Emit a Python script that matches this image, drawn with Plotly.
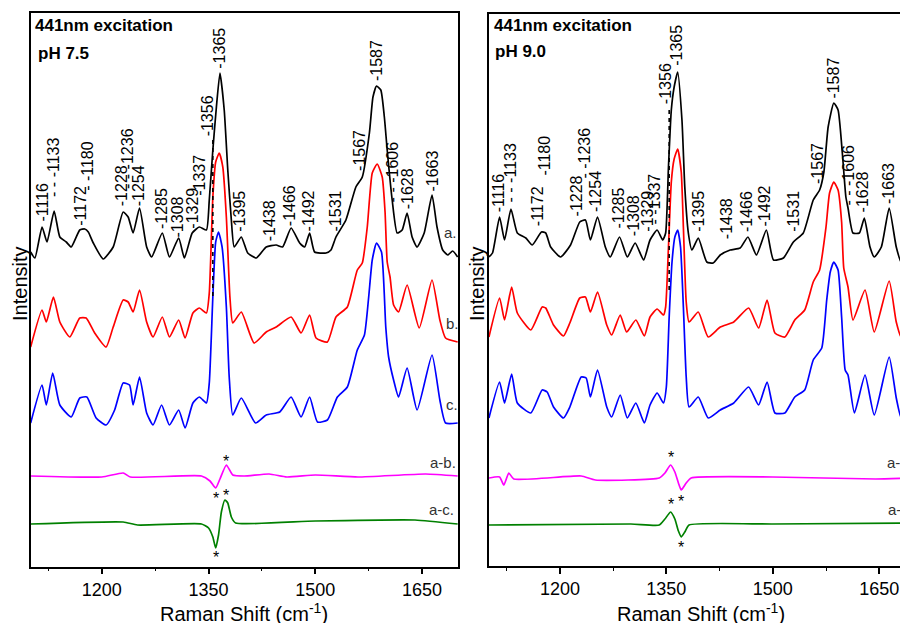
import plotly.graph_objects as go

FONT = "Arial, 'Liberation Sans', sans-serif"

# ---------------- pH 7.5 panel (left) ----------------
wn75_a = [1100, 1106, 1116, 1123, 1133, 1141, 1150, 1157, 1169, 1176, 1181, 1188, 1202, 1216, 1230, 1237, 1244, 1253,
          1263, 1270, 1285, 1295, 1308, 1316, 1327, 1337, 1347, 1351, 1356, 1361, 1366, 1372, 1377, 1382, 1386, 1396,
          1405, 1417, 1431, 1445, 1454, 1466, 1478, 1485, 1492, 1499, 1515, 1522, 1529, 1543, 1557, 1566, 1576, 1581,
          1586, 1592, 1597, 1601, 1608, 1615, 1622, 1629, 1636, 1643, 1653, 1664, 1671, 1679, 1686, 1693, 1700]
int75_a = [315, 309, 340, 325, 356, 330, 325, 320, 337, 338, 335, 324, 308, 320, 355, 350, 334, 359,
           320, 310, 334, 310, 329, 309, 334, 340, 337, 367, 417, 460, 494, 457, 397, 347, 320, 330,
           314, 309, 320, 322, 320, 339, 324, 320, 334, 315, 314, 317, 330, 347, 380, 390, 434, 470,
           481, 477, 450, 417, 367, 334, 337, 354, 330, 320, 334, 372, 340, 317, 312, 316, 310]

wn75_b = [1100, 1116, 1122, 1132, 1141, 1155, 1169, 1178, 1190, 1206, 1216, 1230, 1237, 1244, 1253, 1263, 1272, 1285,
          1295, 1308, 1317, 1328, 1337, 1347, 1351, 1356, 1360, 1365, 1370, 1375, 1380, 1384, 1396, 1414, 1431, 1445,
          1466, 1480, 1492, 1501, 1517, 1529, 1545, 1559, 1566, 1573, 1580, 1587, 1594, 1598, 1601, 1605, 1610, 1617,
          1629, 1646, 1664, 1675, 1683, 1700]
int75_b = [220, 257, 245, 270, 245, 230, 249, 249, 234, 220, 240, 267, 265, 255, 277, 245, 230, 250,
           230, 247, 229, 254, 259, 254, 274, 370, 405, 414, 400, 350, 270, 244, 255, 224, 235, 240,
           250, 234, 252, 229, 225, 250, 260, 297, 304, 340, 394, 403, 390, 355, 305, 290, 262, 255,
           282, 239, 287, 247, 229, 225]

wn75_c = [1100, 1116, 1122, 1131, 1141, 1157, 1169, 1179, 1192, 1206, 1218, 1230, 1239, 1244, 1253, 1263, 1272, 1284,
          1295, 1308, 1317, 1328, 1337, 1347, 1351, 1356, 1360, 1364, 1369, 1375, 1379, 1384, 1396, 1416, 1431, 1450,
          1466, 1480, 1492, 1503, 1517, 1531, 1545, 1559, 1569, 1575, 1580, 1586, 1593, 1599, 1603, 1610, 1617, 1629,
          1643, 1664, 1675, 1683, 1700]
int75_c = [144, 182, 162, 194, 162, 150, 169, 170, 149, 142, 157, 184, 182, 162, 190, 154, 142, 162,
           142, 157, 139, 164, 170, 164, 184, 270, 325, 335, 320, 260, 190, 152, 169, 144, 152, 155,
           170, 150, 170, 145, 147, 170, 180, 217, 232, 270, 307, 324, 315, 240, 210, 187, 170, 199,
           157, 212, 167, 144, 144]

wn75_ab = [1100, 1200, 1230, 1240, 1340, 1352, 1360, 1366, 1375, 1384, 1400, 1435, 1460, 1500, 1560, 1655, 1700]
int75_ab = [91, 90, 94, 90, 91, 86, 79, 88, 102, 92, 91, 93, 90, 92, 90, 93, 91]

wn75_ac = [1100, 1230, 1250, 1340, 1350, 1356, 1360, 1364, 1368, 1373, 1377, 1382, 1388, 1500, 1640, 1700]
int75_ac = [43, 45, 42, 43, 39, 30, 19, 32, 55, 67, 64, 50, 44, 46, 47, 43]

peaks75_text = ["-1116", "- - -1133", "-1172", "- -1180", "-1228", "- - -1236", "-1254", "-1285", "-1308", "-1329",
                "-1337", "-1356", "-1365", "-1395", "-1438", "-1466", "-1492", "-1531", "-1567", "-1587",
                "- - -1606", "-1628", "-1663"]
peaks75_x = [1116, 1132, 1169, 1179, 1228, 1236, 1252, 1284, 1307, 1327,
             1337, 1349, 1365, 1393, 1436, 1464, 1491, 1529, 1562, 1586,
             1609, 1630, 1664]
peaks75_y = [344, 369, 340, 375, 360, 377, 360, 337, 329, 337,
             370, 430, 497, 334, 325, 340, 335, 335, 395, 485,
             364, 357, 374]
lead75_x = [1356, 1356]
lead75_y = [427, 267]

stars75_x = [1375, 1360, 1374, 1360]
stars75_y = [106, 69, 72, 10]

curve_names = ["a.", "b.", "c.", "a-b.", "a-c."]
names75_x = [1678, 1681, 1681, 1659, 1657]
names75_y = [335, 244, 163, 105, 58]

# ---------------- pH 9.0 panel (right) ----------------
wn90_a = [1100, 1105, 1115, 1122, 1131, 1140, 1152, 1161, 1174, 1180, 1187, 1201, 1215, 1228, 1236, 1243, 1253, 1264,
          1271, 1284, 1295, 1306, 1318, 1327, 1337, 1345, 1349, 1353, 1357, 1361, 1366, 1372, 1376, 1381, 1386, 1395,
          1407, 1416, 1426, 1440, 1454, 1465, 1477, 1491, 1501, 1515, 1529, 1543, 1557, 1566, 1572, 1578, 1586, 1592,
          1598, 1603, 1606, 1613, 1622, 1629, 1637, 1643, 1653, 1664, 1674, 1681, 1688, 1699]
int90_a = [310, 314, 350, 327, 358, 334, 329, 322, 335, 334, 320, 310, 322, 345, 347, 327, 350, 320,
           310, 330, 310, 324, 307, 327, 337, 327, 334, 400, 457, 480, 495, 447, 380, 334, 317, 329,
           305, 304, 312, 317, 319, 330, 312, 337, 307, 309, 325, 334, 367, 377, 395, 440, 464, 457,
           414, 370, 359, 334, 334, 349, 320, 310, 320, 359, 320, 305, 309, 310]

wn90_b = [1100, 1115, 1122, 1132, 1140, 1159, 1175, 1180, 1191, 1205, 1214, 1228, 1236, 1243, 1253, 1266, 1273, 1285,
          1294, 1307, 1319, 1327, 1337, 1346, 1349, 1353, 1357, 1361, 1366, 1371, 1374, 1378, 1382, 1395, 1409, 1426,
          1445, 1466, 1480, 1492, 1503, 1517, 1531, 1545, 1557, 1566, 1575, 1580, 1586, 1592, 1597, 1600, 1606, 1613,
          1630, 1643, 1664, 1674, 1681, 1688, 1699]
int90_b = [230, 269, 247, 280, 254, 237, 260, 259, 242, 231, 244, 269, 270, 255, 275, 242, 232, 252,
           235, 247, 231, 250, 258, 252, 260, 320, 385, 408, 418, 395, 340, 265, 245, 255, 230, 240,
           245, 259, 239, 267, 234, 230, 247, 257, 285, 297, 340, 374, 385, 377, 345, 299, 280, 247,
           277, 235, 286, 245, 230, 232, 230]

wn90_c = [1100, 1115, 1122, 1132, 1140, 1159, 1175, 1182, 1191, 1205, 1214, 1230, 1237, 1243, 1253, 1266, 1273, 1285,
          1295, 1307, 1319, 1327, 1337, 1346, 1350, 1354, 1358, 1362, 1366, 1370, 1374, 1378, 1382, 1395, 1409, 1426,
          1445, 1466, 1480, 1492, 1503, 1517, 1531, 1545, 1557, 1569, 1576, 1581, 1586, 1592, 1597, 1602, 1606, 1615,
          1630, 1643, 1664, 1674, 1681, 1688, 1699]
int90_c = [149, 185, 164, 193, 164, 154, 177, 175, 160, 149, 160, 190, 189, 170, 197, 160, 150, 172,
           149, 164, 144, 162, 174, 164, 180, 250, 305, 330, 337, 320, 260, 190, 160, 170, 149, 157,
           164, 180, 162, 185, 154, 154, 170, 177, 207, 219, 267, 295, 305, 297, 250, 197, 192, 154,
           192, 152, 210, 169, 149, 157, 152]

wn90_ab = [1100, 1115, 1121, 1128, 1135, 1230, 1250, 1340, 1348, 1356, 1362, 1367, 1371, 1378, 1385, 1500, 1645, 1699]
int90_ab = [89, 90, 82, 94, 88, 91, 87, 89, 94, 102, 95, 84, 77, 84, 89, 90, 88, 89]

wn90_ac = [1100, 1300, 1340, 1348, 1356, 1362, 1367, 1371, 1376, 1382, 1500, 1699]
int90_ac = [42, 43, 42, 48, 55, 48, 36, 30, 35, 42, 43, 44]

peaks90_text = ["-1116", "- - -1133", "-1172", "-1180", "-1228", "- -1236", "-1254", "-1285", "-1308", "-1329",
                "- -1337", "-1356", "-1365", "-1395", "-1438", "-1466", "-1492", "-1531", "-1567", "-1587",
                "- - -1606", "-1628", "-1663"]
peaks90_x = [1114, 1131, 1168, 1177, 1224, 1234, 1250, 1282, 1304, 1323,
             1334, 1349, 1364, 1395, 1435, 1463, 1489, 1529, 1563, 1585,
             1606, 1627, 1663]
peaks90_y = [354, 364, 340, 390, 350, 387, 354, 337, 330, 334,
             342, 462, 500, 334, 327, 334, 340, 334, 382, 467,
             360, 354, 362]
lead90_x = [1354, 1354]
lead90_y = [457, 277]

stars90_x = [1356, 1356, 1371, 1371]
stars90_y = [110, 63, 66, 20]

names90_x = [1681, 1679, 1679, 1658, 1659]
names90_y = [327, 247, 177, 105, 58]

colors = ["#000000", "#FF0000", "#0000FF", "#FF00FF", "#008000"]

fig = go.Figure()


def add_panel(xa, ya, curves, lead_x, lead_y):
    for (wx, iy), col in zip(curves, colors):
        fig.add_trace(go.Scatter(x=wx, y=iy, mode="lines", xaxis=xa, yaxis=ya,
                                 line=dict(color=col, width=1.7, shape="spline", smoothing=0.5),
                                 hoverinfo="skip", showlegend=False))
    fig.add_trace(go.Scatter(x=lead_x, y=lead_y, mode="lines", xaxis=xa, yaxis=ya,
                             line=dict(color="#000000", width=1.6, dash="4px,4px"),
                             hoverinfo="skip", showlegend=False))


add_panel("x", "y", [(wn75_a, int75_a), (wn75_b, int75_b), (wn75_c, int75_c),
                     (wn75_ab, int75_ab), (wn75_ac, int75_ac)], lead75_x, lead75_y)
add_panel("x2", "y2", [(wn90_a, int90_a), (wn90_b, int90_b), (wn90_c, int90_c),
                       (wn90_ab, int90_ab), (wn90_ac, int90_ac)], lead90_x, lead90_y)

ann = []


def panel_annotations(xr, yr, ptext, px, py, sx, sy, nx, ny):
    for t, x, y in zip(ptext, px, py):
        ann.append(dict(x=x, y=y, xref=xr, yref=yr, text=t, textangle=-90, showarrow=False,
                        xanchor="center", yanchor="bottom", font=dict(size=16, color="#000", family=FONT),
                        borderpad=0))
    for x, y in zip(sx, sy):
        ann.append(dict(x=x, y=y, xref=xr, yref=yr, text="*", showarrow=False,
                        xanchor="center", yanchor="middle", font=dict(size=16, color="#000", family=FONT)))
    for t, x, y in zip(curve_names, nx, ny):
        ann.append(dict(x=x, y=y, xref=xr, yref=yr, text=t, showarrow=False,
                        xanchor="left", yanchor="middle", font=dict(size=15, color="#333", family=FONT)))


panel_annotations("x", "y", peaks75_text, peaks75_x, peaks75_y, stars75_x, stars75_y, names75_x, names75_y)
panel_annotations("x2", "y2", peaks90_text, peaks90_x, peaks90_y, stars90_x, stars90_y, names90_x, names90_y)

W, H = 908, 623
OFF = 8  # the page body adds an 8 px margin; positions below are page pixels


def paper(px, py):
    return (px - OFF) / W, (H - (py - OFF)) / H


headers = [("<b>441nm excitation</b>", 33, 25), ("<b>pH 7.5</b>", 36, 53),
           ("<b>441nm excitation</b>", 493, 25), ("<b>pH 9.0</b>", 494, 51)]
for t, px, py in headers:
    x, y = paper(px, py)
    ann.append(dict(x=x, y=y, xref="paper", yref="paper", text=t, showarrow=False,
                    xanchor="left", yanchor="middle", font=dict(size=17, color="#000", family=FONT)))

for px in (245, 703):
    x, y = paper(px, 612)
    ann.append(dict(x=x, y=y, xref="paper", yref="paper", text="Raman Shift (cm<sup>-1</sup>)",
                    showarrow=False, xanchor="center", yanchor="middle",
                    font=dict(size=20, color="#000", family=FONT)))
for px in (20, 478):
    x, y = paper(px, 284)
    ann.append(dict(x=x, y=y, xref="paper", yref="paper", text="Intensity", textangle=-90,
                    showarrow=False, xanchor="center", yanchor="middle",
                    font=dict(size=20, color="#000", family=FONT)))

xcommon = dict(showline=True, linecolor="#000", linewidth=1.5, mirror=True, ticks="outside",
               ticklen=6, tickwidth=1.5, tickcolor="#000", tick0=1200, dtick=150,
               minor=dict(ticks="outside", ticklen=3, tick0=1125, dtick=75, tickcolor="#000", tickwidth=1.2),
               showgrid=False, zeroline=False, tickfont=dict(size=18, color="#000", family=FONT))
ycommon = dict(showline=True, linecolor="#000", linewidth=1.5, ticks="", showticklabels=False,
               showgrid=False, zeroline=False, mirror=True)

x1d = paper(30.7, 0)[0], paper(459, 0)[0]
y1d = paper(0, 566.7)[1], paper(0, 12.7)[1]
x2d = paper(490, 0)[0], 1.0
y2d = paper(0, 566)[1], paper(0, 14)[1]

fig.update_layout(
    width=W, height=H, margin=dict(l=0, r=0, t=0, b=0),
    paper_bgcolor="#ffffff", plot_bgcolor="#ffffff", showlegend=False,
    xaxis=dict(domain=list(x1d), range=[1100, 1700.5], anchor="y", **xcommon),
    yaxis=dict(domain=list(y1d), range=[0.3, 554.3], anchor="x", **ycommon),
    xaxis2=dict(domain=list(x2d), range=[1100, 1699], anchor="y2", **xcommon),
    yaxis2=dict(domain=list(y2d), range=[1, 553], anchor="x2", **ycommon),
    annotations=ann,
)

fig.write_html("out.html")
